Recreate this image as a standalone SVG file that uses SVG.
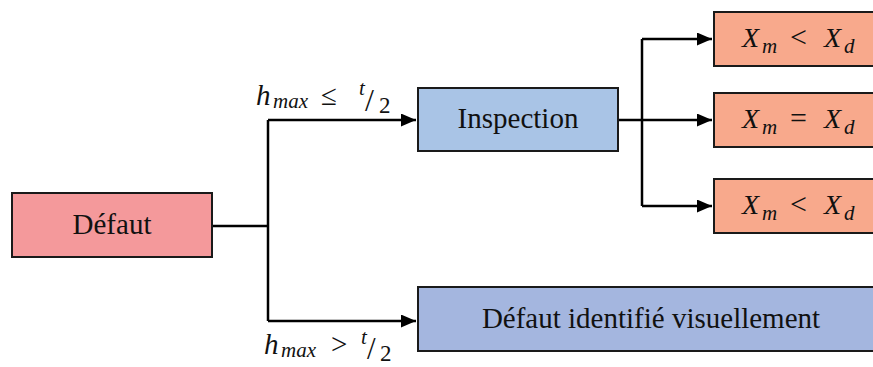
<svg xmlns="http://www.w3.org/2000/svg" width="873" height="367" viewBox="0 0 873 367">
<style>
.box{stroke:#1a1a1a;stroke-width:2}
.t{font-family:'Liberation Serif','Times New Roman',serif;font-size:29px;fill:#111;text-anchor:middle}
.m{font-family:'Liberation Serif','Times New Roman',serif;font-style:italic;fill:#111}
.ln{fill:none;stroke:#000;stroke-width:2.5}
</style>
<defs>
<marker id="a" viewBox="0 0 15 13" refX="15" refY="6.5" markerWidth="15" markerHeight="13" markerUnits="userSpaceOnUse" orient="auto"><path d="M0,0L15,6.5L0,13z" fill="#000"/></marker>
</defs>
<g id="connectors">
<path class="ln" d="M212,226H268"/>
<path class="ln" d="M268,120V321"/>
<path class="ln" d="M268,120H416" marker-end="url(#a)"/>
<path class="ln" d="M268,321H416" marker-end="url(#a)"/>
<path class="ln" d="M618,120H712" marker-end="url(#a)"/>
<path class="ln" d="M642,39V206"/>
<path class="ln" d="M642,39H712" marker-end="url(#a)"/>
<path class="ln" d="M642,206H712" marker-end="url(#a)"/>
</g>
<g id="label-le">
<text class="m" y="105"><tspan x="256" font-size="29">h</tspan><tspan x="273" y="108" font-size="21">max</tspan><tspan x="321" y="105" font-size="29" font-style="normal">≤</tspan><tspan x="359" y="95" font-size="21">t</tspan><tspan x="365" y="111" font-size="32" font-style="normal">/</tspan><tspan x="379" y="113" font-size="23" font-style="normal">2</tspan></text>
</g>
<g id="label-gt">
<text class="m" y="354"><tspan x="264" font-size="29">h</tspan><tspan x="281" y="357" font-size="21">max</tspan><tspan x="331" y="354" font-size="29" font-style="normal">&gt;</tspan><tspan x="361" y="344" font-size="21">t</tspan><tspan x="367" y="359" font-size="31" font-style="normal">/</tspan><tspan x="380" y="361" font-size="23" font-style="normal">2</tspan></text>
</g>
<g id="defaut">
<rect class="box" x="12" y="193" width="200" height="64" fill="#f4999b"/>
<text class="t" x="112" y="234">Défaut</text>
</g>
<g id="inspection">
<rect class="box" x="418" y="88" width="200" height="63" fill="#a9c4e6"/>
<text class="t" x="518" y="128">Inspection</text>
</g>
<g id="visuel">
<rect class="box" x="418" y="287" width="470" height="64" fill="#a4b6df"/>
<text class="t" x="651" y="328">Défaut identifié visuellement</text>
</g>
<g id="r1">
<rect class="box" x="714" y="12" width="170" height="54" fill="#f8a98c"/>
<text class="m" y="47"><tspan x="742" font-size="28">X</tspan><tspan x="762" y="53" font-size="21">m</tspan><tspan x="790" y="47" font-size="30" font-style="normal">&lt;</tspan><tspan x="824" font-size="28">X</tspan><tspan x="844" y="53" font-size="21">d</tspan></text>
</g>
<g id="r2">
<rect class="box" x="714" y="93" width="170" height="54" fill="#f8a98c"/>
<text class="m" y="128"><tspan x="742" font-size="28">X</tspan><tspan x="762" y="134" font-size="21">m</tspan><tspan x="790" y="128" font-size="30" font-style="normal">=</tspan><tspan x="824" font-size="28">X</tspan><tspan x="844" y="134" font-size="21">d</tspan></text>
</g>
<g id="r3">
<rect class="box" x="714" y="179" width="170" height="54" fill="#f8a98c"/>
<text class="m" y="214"><tspan x="742" font-size="28">X</tspan><tspan x="762" y="220" font-size="21">m</tspan><tspan x="790" y="214" font-size="30" font-style="normal">&lt;</tspan><tspan x="824" font-size="28">X</tspan><tspan x="844" y="220" font-size="21">d</tspan></text>
</g>
</svg>
